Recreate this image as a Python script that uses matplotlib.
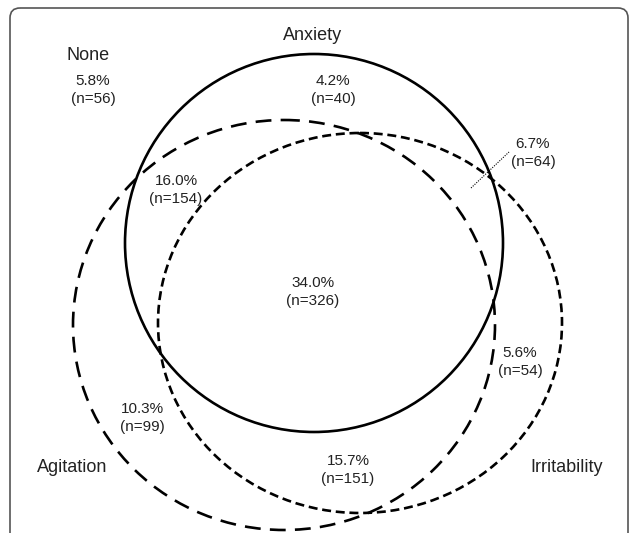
import matplotlib.pyplot as plt
from matplotlib.patches import Ellipse, FancyBboxPatch

plt.rcParams['font.family'] = ['Liberation Sans', 'DejaVu Sans']

# set names and region values
set_names = ['Anxiety', 'Agitation', 'Irritability']
region_names = ['None', 'Anxiety only', 'Anx+Irr', 'Anx+Agi', 'All three',
                'Irritability only', 'Agitation only', 'Agi+Irr']
region_pct = [5.8, 4.2, 6.7, 16.0, 34.0, 5.6, 10.3, 15.7]
region_n = [56, 40, 64, 154, 326, 54, 99, 151]

# layout (pixel coords, y down): centre, width, height, line style
shapes = {
    'Anxiety': dict(xy=(314, 243), w=378, h=378, ls='-'),
    'Agitation': dict(xy=(284, 325), w=422, h=410, ls=(0, (6, 3.5))),
    'Irritability': dict(xy=(360, 323), w=404, h=380, ls=(0, (3.4, 1.8))),
}
name_pos = {'Anxiety': (313, 35), 'Agitation': (72, 467), 'Irritability': (567, 467)}
region_pos = [(93, 90), (333, 90), (533, 153), (176, 190), (313, 292),
              (520, 362), (142, 418), (348, 470)]

fig = plt.figure(figsize=(6.29, 5.33), dpi=100)
ax = fig.add_axes([0, 0, 1, 1])
ax.set_xlim(0, 629)
ax.set_ylim(533, 0)
ax.axis('off')

frame = FancyBboxPatch((10, 8), 618, 560, boxstyle='round,pad=0,rounding_size=10',
                       fill=False, ec='#555555', lw=1.2)
ax.add_patch(frame)

for name in set_names:
    s = shapes[name]
    ax.add_patch(Ellipse(s['xy'], s['w'], s['h'], fill=False, ec='black', lw=1.9, ls=s['ls']))

for name in set_names:
    x, y = name_pos[name]
    ax.text(x, y, name, ha='center', va='center', fontsize=13, color='#222222')

ax.text(88, 56, 'None', ha='center', va='center', fontsize=13, color='#222222')

for (x, y), p, n in zip(region_pos, region_pct, region_n):
    ax.text(x, y, f'{p:.1f}%\n(n={n})', ha='center', va='center', fontsize=11,
            color='#222222', linespacing=1.3)

# leader line for the small Anxiety+Irritability region
ax.plot([471, 509], [188, 152], color='black', lw=0.8, ls=(0, (1, 1.2)))

fig.savefig('out.png', dpi=100)
